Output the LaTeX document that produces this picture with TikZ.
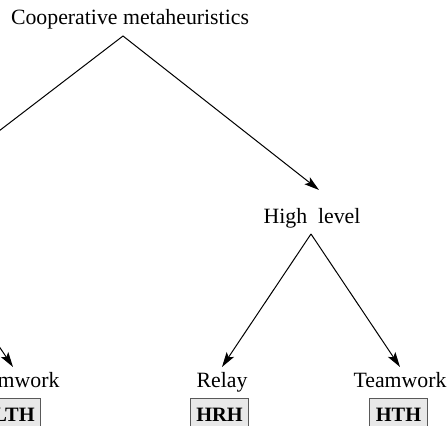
\documentclass[tikz,border=0pt]{standalone}
\usepackage{fontspec}
\setmainfont{Liberation Serif}
\usetikzlibrary{arrows.meta}

\begin{document}
\begin{tikzpicture}[
    x=0.5pt, y=-0.5pt,
    font=\fontsize{10.9}{13}\selectfont,
    lbl/.style={anchor=base, inner sep=0pt},
    tag/.style={anchor=base, draw=black!65, fill=black!9, line width=0.6pt, inner xsep=3pt, inner ysep=5pt, font=\fontsize{10.2}{12}\selectfont\bfseries},
    arr/.style={-{Stealth[length=7.5pt, width=4.4pt, inset=1.6pt]}, line width=0.5pt}
]
    \useasboundingbox (0,0) rectangle (447,426);
    \clip (0,0) rectangle (447,426);

    \node[lbl] (coop) at (130,25) {Cooperative metaheuristics};
    \node[lbl] (low) at (-90,224) {Low~~level};
    \node[lbl] (high) at (312,224) {High~~level};

    \node[lbl] (ltw) at (13,388) {Teamwork};
    \node[lbl] (relay) at (222,388) {Relay};
    \node[lbl] (htw) at (400,388) {Teamwork};

    \node[tag] (lth) at (14,422) {LTH};
    \node[tag] (hrh) at (219.5,422) {HRH};
    \node[tag] (hth) at (398.5,422) {HTH};

    \draw[arr] ([shift={(-7,11)}]coop.base) -- ([shift={(12,-34)}]low.base);
    \draw[arr] ([shift={(-7,11)}]coop.base) -- ([shift={(7,-34)}]high.base);
    \draw[arr] ([shift={(13,10)}]low.base) -- ([shift={(0,-21)}]ltw.base);
    \draw[arr] ([shift={(-1,10)}]high.base) -- ([shift={(0,-21)}]relay.base);
    \draw[arr] ([shift={(-1,10)}]high.base) -- ([shift={(0,-21)}]htw.base);

\end{tikzpicture}
\end{document}
